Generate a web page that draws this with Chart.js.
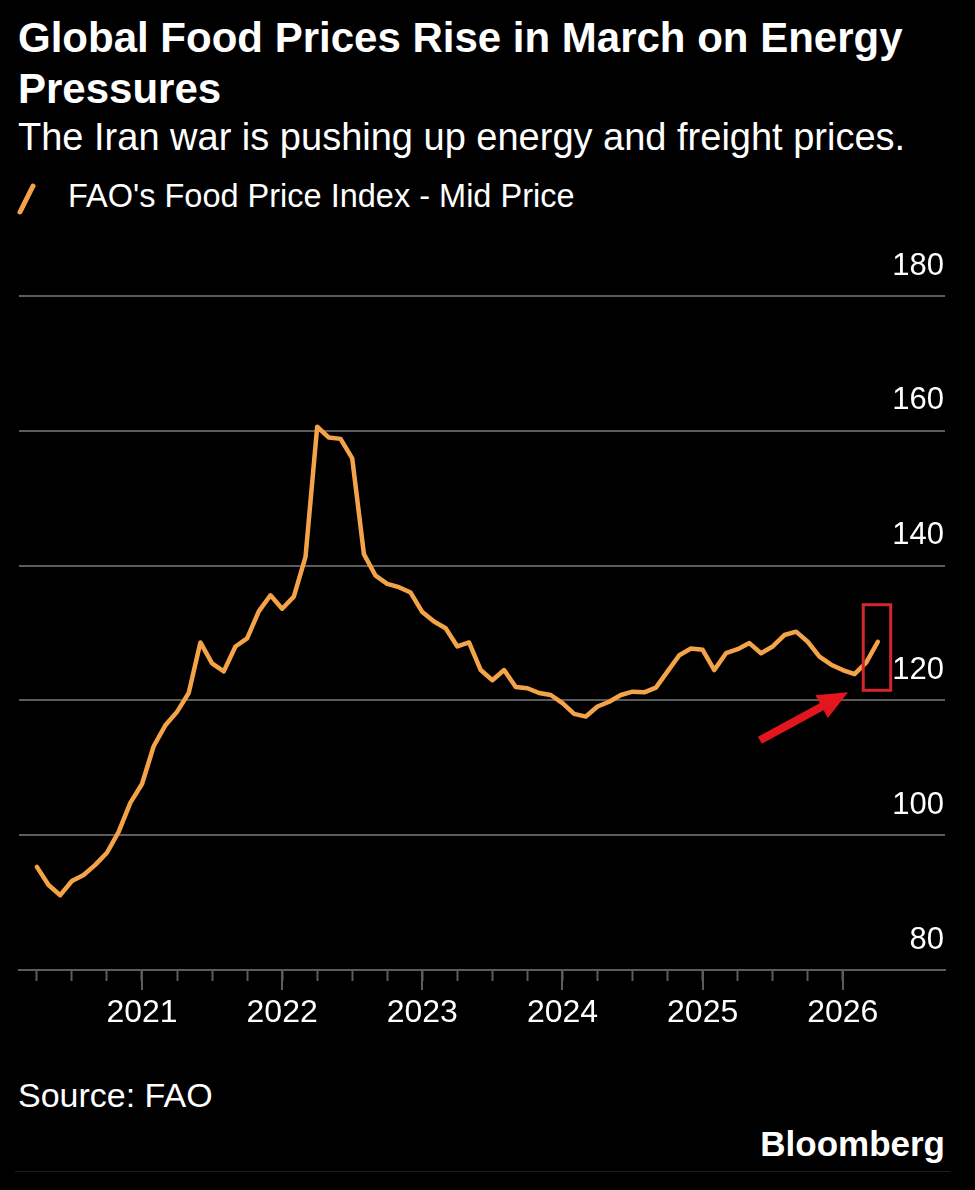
<!DOCTYPE html>
<html><head><meta charset="utf-8">
<script src="https://cdn.jsdelivr.net/npm/chart.js@4"></script>
<style>
html,body{margin:0;padding:0;background:#000;}
body{width:975px;height:1190px;position:relative;overflow:hidden;font-family:"Liberation Sans",Arial,sans-serif;color:#fff;}
.t{position:absolute;white-space:nowrap;}
#title{left:18px;top:12px;font-size:42px;line-height:51px;font-weight:bold;}
#sub{left:18px;top:118px;font-size:38px;line-height:38px;}
#legend{left:68px;top:180px;font-size:32.5px;line-height:32px;}
#legicon{position:absolute;left:16px;top:182px;}
#source{left:18px;top:1078px;font-size:34px;line-height:34px;}
#brand{right:30px;top:1126px;font-size:35px;line-height:35px;font-weight:bold;}
#rule{position:absolute;left:15px;top:1171px;width:935px;height:1px;background:#1e1e1e;}
#wrap{position:absolute;left:0;top:240px;width:975px;height:820px;}
</style>
</head><body>
<div class="t" id="title">Global Food Prices Rise in March on Energy<br>Pressures</div>
<div class="t" id="sub">The Iran war is pushing up energy and freight prices.</div>
<svg id="legicon" width="24" height="34"><line x1="4" y1="30" x2="17" y2="4" stroke="#f4a349" stroke-width="5" stroke-linecap="round"/></svg>
<div class="t" id="legend">FAO's Food Price Index - Mid Price</div>
<div id="wrap"><canvas id="c" width="975" height="820"></canvas></div>
<div class="t" id="source">Source: FAO</div>
<div class="t" id="brand">Bloomberg</div>
<div id="rule"></div>
<script>
// ---- data ----
const months = [
 '2020-03','2020-04','2020-05','2020-06','2020-07','2020-08','2020-09','2020-10','2020-11','2020-12',
 '2021-01','2021-02','2021-03','2021-04','2021-05','2021-06','2021-07','2021-08','2021-09','2021-10','2021-11','2021-12',
 '2022-01','2022-02','2022-03','2022-04','2022-05','2022-06','2022-07','2022-08','2022-09','2022-10','2022-11','2022-12',
 '2023-01','2023-02','2023-03','2023-04','2023-05','2023-06','2023-07','2023-08','2023-09','2023-10','2023-11','2023-12',
 '2024-01','2024-02','2024-03','2024-04','2024-05','2024-06','2024-07','2024-08','2024-09','2024-10','2024-11','2024-12',
 '2025-01','2025-02','2025-03','2025-04','2025-05','2025-06','2025-07','2025-08','2025-09','2025-10','2025-11','2025-12',
 '2026-01','2026-02','2026-03'
];
const foodPriceIndex = [
 95.3, 92.6, 91.1, 93.2, 94.1, 95.6, 97.4, 100.5, 104.8, 107.6,
 113.2, 116.3, 118.3, 121.1, 128.6, 125.5, 124.3, 128.0, 129.2, 133.2, 135.6, 133.6,
 135.4, 141.3, 160.6, 159.0, 158.8, 155.9, 141.7, 138.5, 137.3, 136.8, 136.0, 133.1,
 131.7, 130.7, 128.0, 128.6, 124.5, 123.0, 124.5, 122.0, 121.8, 121.1, 120.8, 119.6,
 118.0, 117.6, 119.1, 119.8, 120.8, 121.3, 121.2, 121.9, 124.3, 126.7, 127.7, 127.5,
 124.5, 127.0, 127.6, 128.5, 127.0, 128.0, 129.7, 130.2, 128.7, 126.5, 125.3, 124.5,
 123.9, 125.6, 128.7
];
const yTickValues = [80, 100, 120, 140, 160, 180];
const yearLabels = ['2021', '2022', '2023', '2024', '2025', '2026'];
const quarterTickMonths = [3,6,9,12,15,18,21,24,27,30,33,36,39,42,45,48,51,54,57,60,63,66,69,72];

// month index since 1 Jan 2020, plotted at month end
function monthPos(s){ const [y,m] = s.split('-').map(Number); return (y-2020)*12 + m; }
const points = months.map((m,i)=>({x: monthPos(m), y: foodPriceIndex[i]}));

const GRID = '#5c5c5c';
const ORANGE = '#f4a349';

const extrasPlugin = {
  id: 'extras',
  afterDatasetsDraw(chart, args, opts){
    const {ctx, scales:{x, y}} = chart;
    // long year ticks
    ctx.save();
    ctx.strokeStyle = GRID; ctx.lineWidth = 2;
    quarterTickMonths.filter(v => v % 12 === 0).forEach(v => {
      const px = Math.round(x.getPixelForValue(v));
      ctx.beginPath(); ctx.moveTo(px, y.bottom); ctx.lineTo(px, y.bottom + 20); ctx.stroke();
    });
    // red box
    const b = opts.box;
    const bx0 = x.getPixelForValue(b.x0), bx1 = x.getPixelForValue(b.x1);
    const by0 = y.getPixelForValue(b.y1), by1 = y.getPixelForValue(b.y0);
    ctx.strokeStyle = '#d3262d'; ctx.lineWidth = 3;
    ctx.strokeRect(bx0, by0, bx1 - bx0, by1 - by0);
    // red arrow
    const a = opts.arrow;
    const tx = x.getPixelForValue(a.x0), ty = y.getPixelForValue(a.y0);
    const hx = x.getPixelForValue(a.x1), hy = y.getPixelForValue(a.y1);
    const dx = hx - tx, dy = hy - ty, len = Math.hypot(dx, dy);
    const ux = dx/len, uy = dy/len, nx = -uy, ny = ux;
    const headLen = 30, headHalf = 13;
    const bxp = hx - ux*headLen, byp = hy - uy*headLen;
    ctx.strokeStyle = '#e3161d'; ctx.fillStyle = '#e3161d';
    ctx.lineWidth = 8; ctx.lineCap = 'butt';
    ctx.beginPath(); ctx.moveTo(tx, ty); ctx.lineTo(bxp + ux*2, byp + uy*2); ctx.stroke();
    ctx.beginPath();
    ctx.moveTo(hx, hy);
    ctx.lineTo(bxp + nx*headHalf, byp + ny*headHalf);
    ctx.lineTo(bxp - nx*headHalf, byp - ny*headHalf);
    ctx.closePath(); ctx.fill();
    ctx.restore();
  }
};

new Chart(document.getElementById('c'), {
  type: 'line',
  data: { datasets: [{
    label: "FAO's Food Price Index - Mid Price",
    data: points,
    borderColor: ORANGE, borderWidth: 4.5, pointRadius: 0, tension: 0,
    borderJoinStyle: 'round', borderCapStyle: 'round', fill: false
  }]},
  options: {
    responsive: false, animation: false, devicePixelRatio: 1,
    layout: { padding: { left: 19, top: 56, right: 0, bottom: 0 } },
    plugins: {
      legend: { display: false }, tooltip: { enabled: false }, title: { display: false },
      extras: {
        box: { x0: 73.75, x1: 76.1, y0: 121.5, y1: 134.2 },
        arrow: { x0: 64.9, y0: 114.1, x1: 72.45, y1: 121.2 }
      }
    },
    scales: {
      x: {
        type: 'linear', min: 1.47, max: 80.75,
        afterBuildTicks: s => { s.ticks = quarterTickMonths.map(v => ({ value: v })); },
        afterFit: s => { s.height = 90; },
        grid: { drawOnChartArea: false, drawTicks: true, tickLength: 11, tickColor: GRID, tickWidth: 2 },
        border: { display: true, color: GRID, width: 2 },
        ticks: {
          autoSkip: false, maxRotation: 0, padding: 13, color: '#ffffff',
          font: { family: '"Liberation Sans", Arial, sans-serif', size: 32 },
          callback: v => (v % 12 === 0 ? yearLabels[v / 12 - 1] : '')
        }
      },
      y: {
        position: 'right', min: 80, max: 180,
        afterBuildTicks: s => { s.ticks = yTickValues.map(v => ({ value: v })); },
        afterFit: s => { s.width = 30; },
        grid: { color: GRID, lineWidth: 2, drawTicks: false },
        border: { display: false },
        ticks: {
          mirror: true, padding: -1, labelOffset: -30, color: '#ffffff',
          font: { family: '"Liberation Sans", Arial, sans-serif', size: 31 }
        }
      }
    }
  },
  plugins: [extrasPlugin]
});
</script>
</body></html>
